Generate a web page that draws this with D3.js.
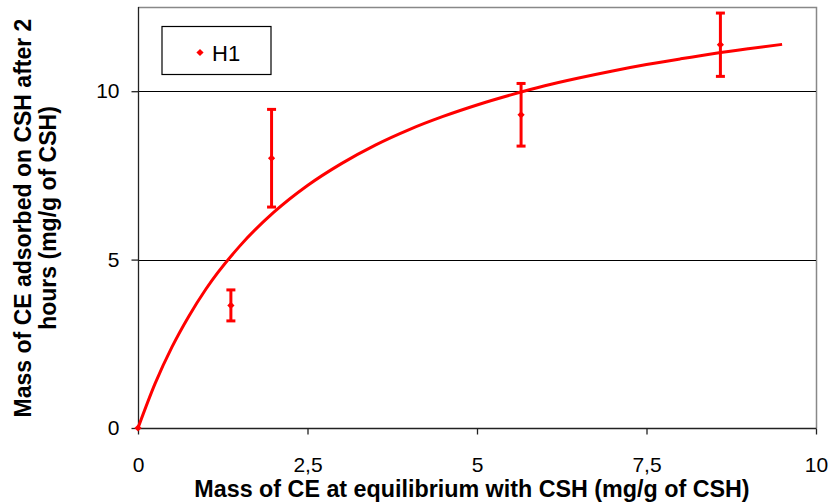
<!DOCTYPE html>
<html>
<head>
<meta charset="utf-8">
<script src="https://cdn.jsdelivr.net/npm/d3@7"></script>
<style>
  body { margin: 0; background: #fff; }
  svg { display: block; }
  text { font-family: "Liberation Sans", Arial, sans-serif; fill: #000; }
</style>
</head>
<body>
<svg id="chart" width="831" height="504"></svg>
<script>
// ---- data ----
const seriesName = "H1";
const pointX = [0, 1.37, 1.97, 5.65, 8.59];
const pointY = [0, 3.64, 8.01, 9.30, 11.38];
const pointErr = [0, 0.46, 1.45, 0.93, 0.94];
const curveX = [0, 0.25, 0.5, 0.75, 1, 1.5, 2, 2.5, 3, 3.5, 4, 4.5, 5, 5.5, 6, 6.5, 7, 7.5, 8, 8.5, 9, 9.5];
const curveY = [0, 1.31, 2.40, 3.32, 4.12, 5.40, 6.40, 7.20, 7.85, 8.40, 8.86, 9.25, 9.59, 9.89, 10.16, 10.39, 10.60, 10.79, 10.96, 11.12, 11.26, 11.39];
const xTicks = [0, 2.5, 5, 7.5, 10];
const yTicks = [0, 5, 10];
const xTitle = "Mass of CE at equilibrium with CSH (mg/g of CSH)";
const yTitle = ["Mass of CE adsorbed on CSH after 2", "hours (mg/g of CSH)"];

// ---- layout ----
const svg = d3.select("#chart");
const L = 138, R = 816, T = 7, B = 428;
const x = d3.scaleLinear().domain([0, 10]).range([L, R]);
const y = d3.scaleLinear().domain([0, 12.5]).range([B, T]);
const red = "#ff0000";
const loc = d3.formatLocale({decimal: ",", thousands: ".", grouping: [3], currency: ["", ""]});
const fmt = v => loc.format("~g")(v);
const FONT = "Liberation Sans, Arial, sans-serif";

// plot border (top and right)
svg.append("path")
  .attr("d", `M${L},${T + 0.5}H${R + 0.5}V${B}`)
  .attr("fill", "none").attr("stroke", "#888").attr("stroke-width", 1.5);

// gridlines
svg.append("g").selectAll("line").data(yTicks.filter(d => d > 0)).join("line")
  .attr("x1", L).attr("x2", R)
  .attr("y1", d => Math.round(y(d)) + 0.5).attr("y2", d => Math.round(y(d)) + 0.5)
  .attr("stroke", "#000").attr("stroke-width", 1);

// axes
const xAxis = svg.append("g").attr("transform", `translate(0,${B + 0.5})`)
  .call(d3.axisBottom(x).tickValues(xTicks).tickFormat(fmt).tickSize(6).tickPadding(23));
const yAxis = svg.append("g").attr("transform", `translate(${L + 0.5},0)`)
  .call(d3.axisLeft(y).tickValues(yTicks).tickFormat(fmt).tickSize(7).tickPadding(12));
[xAxis, yAxis].forEach(g => {
  g.attr("font-size", 21).attr("font-family", FONT);
  g.select(".domain").attr("stroke", "#222").attr("stroke-width", 1.3);
  g.selectAll(".tick line").attr("stroke", "#222").attr("stroke-width", 1.3);
  g.selectAll(".tick text").attr("font-size", 21).attr("fill", "#000");
});
xAxis.select(".domain").attr("d", `M${L},0H${R + 0.5}`);
yAxis.select(".domain").attr("d", `M0,${T}V${B}`);

// fitted curve
const line = d3.line().x(d => x(d[0])).y(d => y(d[1])).curve(d3.curveMonotoneX);
svg.append("path")
  .datum(curveX.map((v, i) => [v, curveY[i]]))
  .attr("d", line)
  .attr("fill", "none").attr("stroke", red).attr("stroke-width", 3);

// error bars
const pts = pointX.map((v, i) => ({x: v, y: pointY[i], e: pointErr[i]}));
const eb = svg.append("g").selectAll("g").data(pts.filter(d => d.e > 0)).join("g");
eb.append("line")
  .attr("x1", d => x(d.x)).attr("x2", d => x(d.x))
  .attr("y1", d => y(d.y - d.e)).attr("y2", d => y(d.y + d.e))
  .attr("stroke", red).attr("stroke-width", 3);
[-1, 1].forEach(s => {
  eb.append("line")
    .attr("x1", d => x(d.x) - 4.5).attr("x2", d => x(d.x) + 4.5)
    .attr("y1", d => y(d.y + s * d.e)).attr("y2", d => y(d.y + s * d.e))
    .attr("stroke", red).attr("stroke-width", 3);
});

// markers (rotated squares)
const diamond = d3.symbol().type(d3.symbolSquare).size(26);
svg.append("g").selectAll("path").data(pts).join("path")
  .attr("transform", d => `translate(${x(d.x)},${y(d.y)}) rotate(45)`)
  .attr("d", diamond).attr("fill", red);

// legend
svg.append("rect").attr("x", 162).attr("y", 26.5).attr("width", 109).attr("height", 48)
  .attr("fill", "#fff").attr("stroke", "#000").attr("stroke-width", 1.2);
svg.append("path").attr("transform", "translate(200,52.5) rotate(45)").attr("d", diamond).attr("fill", red);
svg.append("text").attr("x", 212).attr("y", 60.5).attr("font-size", 22).text(seriesName);

// axis titles
svg.append("text").attr("x", 472).attr("y", 497)
  .attr("text-anchor", "middle").attr("font-size", 23.3).attr("font-weight", "bold")
  .text(xTitle);
const yt = svg.append("text")
  .attr("transform", `translate(31,218) rotate(-90)`)
  .attr("text-anchor", "middle").attr("font-size", 23).attr("font-weight", "bold");
yTitle.forEach((t, i) => yt.append("tspan").attr("x", 0).attr("y", i * 24.5).text(t));
</script>
</body>
</html>
